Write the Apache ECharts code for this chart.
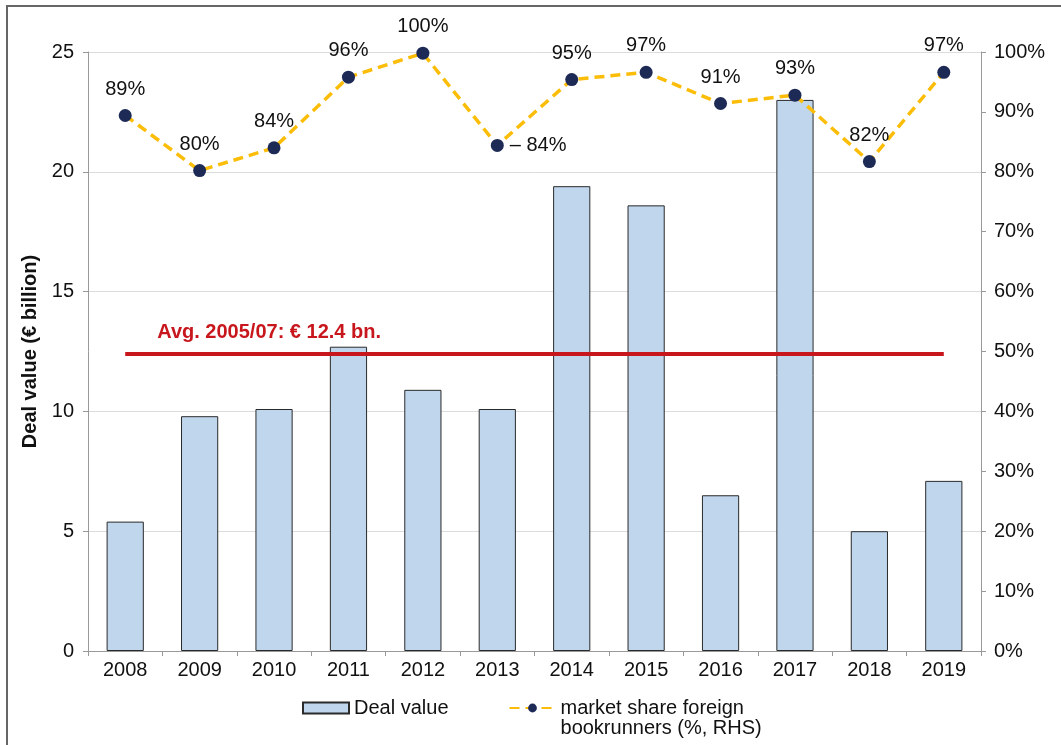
<!DOCTYPE html>
<html>
<head>
<meta charset="utf-8">
<script src="https://cdn.jsdelivr.net/npm/echarts@6/dist/echarts.min.js"></script>
<style>
  html, body { margin: 0; padding: 0; background: #fff; }
  #chart { width: 1061px; height: 745px; position: relative; }
  #frame { position: absolute; left: 6px; top: 5px; width: 1100px; height: 800px;
           border-left: 2px solid #666; border-top: 2px solid #666; pointer-events: none; }
</style>
</head>
<body>
<div id="chart"></div>
<div id="frame"></div>
<script>
// data
const years = ['2008','2009','2010','2011','2012','2013','2014','2015','2016','2017','2018','2019'];
const dealValue = [5.4, 9.8, 10.1, 12.7, 10.9, 10.1, 19.4, 18.6, 6.5, 23.0, 5.0, 7.1];
const foreignShare = [89.4, 80.2, 84.0, 95.8, 99.8, 84.4, 95.4, 96.6, 91.4, 92.8, 81.7, 96.6];
const avgLevel = 12.4;
const avgText = 'Avg. 2005/07: € 12.4 bn.';

const font = 'Liberation Sans, Arial, Helvetica, sans-serif';
const fs = 20;
const chart = echarts.init(document.getElementById('chart'));

// line points; 2013 label sits to the right
const shareData = foreignShare.map((v, i) => {
  if (years[i] === '2013') {
    return { value: v, label: { position: 'right', distance: 6, formatter: p => '– ' + Math.round(p.value) + '%' } };
  }
  return v;
});

let option = {
  animation: false,
  textStyle: { fontFamily: font },
  grid: { left: 88, right: 80, top: 52, bottom: 94 },
  legend: {
    top: 673,
    left: 297,
    itemGap: 60,
    itemWidth: 46,
    itemHeight: 11,
    textStyle: { fontFamily: font, fontSize: fs, color: '#111', lineHeight: 20 },
    // leading blank line keeps the icon level with the first text line
    formatter: name => name.indexOf('\n') >= 0 ? '\n' + name : name,
    data: [
      { name: 'Deal value', icon: 'rect' },
      { name: 'market share foreign\nbookrunners (%, RHS)' }
    ]
  },
  xAxis: {
    type: 'category',
    data: years,
    axisLine: { lineStyle: { color: '#999' } },
    axisTick: { show: true, alignWithLabel: false, length: 5, lineStyle: { color: '#999' } },
    axisLabel: { fontSize: fs, color: '#111', margin: 9, fontFamily: font }
  },
  yAxis: [
    {
      type: 'value',
      min: 0, max: 25, interval: 5,
      name: 'Deal value (€ billion)',
      nameLocation: 'middle',
      nameGap: 41,
      nameTextStyle: { fontSize: fs, fontWeight: 'bold', color: '#111', fontFamily: font },
      axisLine: { show: true, lineStyle: { color: '#999' } },
      axisTick: { show: true, length: 5, lineStyle: { color: '#999' } },
      axisLabel: { fontSize: fs, color: '#111', margin: 14, fontFamily: font },
      splitLine: { lineStyle: { color: '#dcdcdc' } }
    },
    {
      type: 'value',
      min: 0, max: 100, interval: 10,
      position: 'right',
      axisLine: { show: true, lineStyle: { color: '#999' } },
      axisTick: { show: true, length: 5, lineStyle: { color: '#999' } },
      axisLabel: { fontSize: fs, color: '#111', margin: 13, formatter: '{value}%', fontFamily: font },
      splitLine: { show: false }
    }
  ],
  series: [
    {
      name: 'Deal value',
      type: 'bar',
      data: dealValue,
      barWidth: '50%',
      itemStyle: { color: '#bfd6ed', borderColor: '#2a2a2a', borderWidth: 1 },
      markLine: {
        symbol: 'none',
        silent: true,
        lineStyle: { color: '#c8161d', width: 4, type: 'solid' },
        label: {
          show: true,
          position: 'insideStartTop',
          distance: [32, 11],
          formatter: avgText,
          color: '#c8161d',
          fontSize: fs,
          fontWeight: 'bold',
          fontFamily: font
        },
        data: [[
          { coord: [years[0], avgLevel] },
          { coord: [years[years.length - 1], avgLevel] }
        ]]
      }
    },
    {
      name: 'market share foreign\nbookrunners (%, RHS)',
      type: 'line',
      yAxisIndex: 1,
      data: shareData,
      symbol: 'circle',
      symbolSize: 13,
      lineStyle: { color: '#fbbd08', width: 3.5, type: [10, 6] },
      itemStyle: { color: '#1e2a56' },
      label: {
        show: true,
        position: 'top',
        distance: 10,
        fontSize: fs,
        color: '#111',
        fontFamily: font,
        formatter: p => Math.round(p.value) + '%'
      },
      z: 5
    }
  ]
};

chart.setOption(option);
</script>
</body>
</html>
